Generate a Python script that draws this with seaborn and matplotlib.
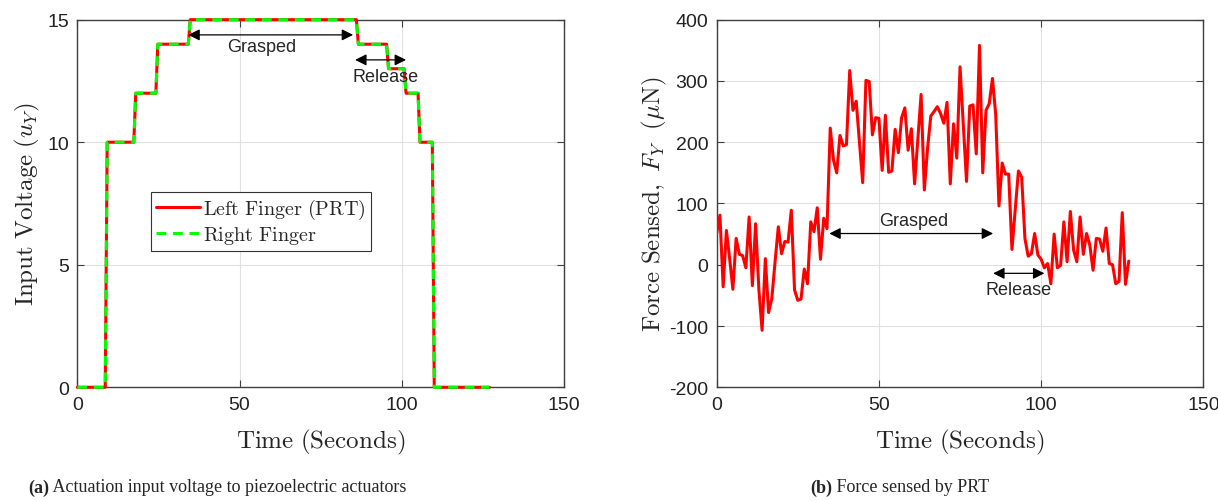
import numpy as np
import pandas as pd
import matplotlib
matplotlib.use('Agg')
import matplotlib.pyplot as plt
import seaborn as sns

# (a) actuation input voltage, step profile (corner points)
volt_time = [0, 8.6, 9.2, 17.4, 18.0, 24.2, 24.8, 34.2, 34.8, 86.0, 86.6,
             95.3, 95.9, 100.7, 101.3, 105.0, 105.6, 109.4, 110.0, 127.0]
volt_left = [0, 0, 10, 10, 12, 12, 14, 14, 15, 15, 14,
             14, 13, 13, 12, 12, 10, 10, 0, 0]
volt_right = list(volt_left)

# (b) force sensed by PRT, ~1 sample per second
force = [51, 81, -36, 56, 10, -40, 43, 17, 15, -5,
         78, -34, 67, -40, -107, 10, -78, -55, 5, 62,
         18, 38, 37, 89, -41, -58, -56, -7, -31, 70,
         54, 93, 9, 76, 59, 223, 171, 150, 211, 194,
         196, 317, 252, 267, 200, 134, 301, 299, 212, 240,
         239, 154, 244, 151, 153, 221, 183, 240, 256, 187,
         222, 132, 205, 278, 122, 190, 243, 250, 258, 247,
         231, 265, 132, 230, 174, 323, 230, 136, 259, 261,
         181, 358, 150, 252, 263, 304, 245, 96, 166, 148,
         148, 25, 90, 153, 143, 43, 14, 18, 51, 16,
         9, -5, 2, -31, 50, -5, -1, 70, 5, 87,
         24, 5, 78, 17, 51, 32, -9, 43, 42, 22,
         60, 2, 0, -31, -27, 85, -32, 6]
force_time = np.arange(len(force))

captions = ['Actuation input voltage to piezoelectric actuators', 'Force sensed by PRT']

sns.set_style('whitegrid')
plt.rcParams['font.family'] = ['Liberation Sans', 'DejaVu Sans']
plt.rcParams['mathtext.fontset'] = 'cm'
plt.rcParams['axes.unicode_minus'] = False

fig = plt.figure(figsize=(12.18, 5.02), dpi=100)
ax1 = fig.add_axes([0.0635, 0.2265, 0.3996, 0.7323])
ax2 = fig.add_axes([0.5884, 0.2265, 0.3996, 0.7323])

df_v = pd.DataFrame({'t': volt_time, 'left': volt_left, 'right': volt_right})
sns.lineplot(data=df_v, x='t', y='left', ax=ax1, color='#ff0000', lw=2.2,
             sort=False, estimator=None, label=r'$\mathrm{Left\ Finger\ (PRT)}$',
             zorder=3, clip_on=False)
sns.lineplot(data=df_v, x='t', y='right', ax=ax1, color='#00ff00', lw=2.2,
             sort=False, estimator=None, dashes=False, linestyle=(0, (3.2, 2.2)),
             label=r'$\mathrm{Right\ Finger}$', zorder=3, clip_on=False)

df_f = pd.DataFrame({'t': force_time, 'f': force})
sns.lineplot(data=df_f, x='t', y='f', ax=ax2, color='#ff0000', lw=2.2,
             sort=False, estimator=None, zorder=3)

arrow = dict(arrowstyle='<|-|>', color='black', lw=0.9, mutation_scale=17,
             shrinkA=0, shrinkB=0)

# annotations (a)
ax1.annotate('', xy=(34.2, 14.38), xytext=(85.0, 14.38), arrowprops=arrow)
ax1.text(56.8, 13.92, 'Grasped', ha='center', va='center', fontsize=13)
ax1.annotate('', xy=(85.6, 13.36), xytext=(101.3, 13.36), arrowprops=arrow)
ax1.text(95.1, 12.68, 'Release', ha='center', va='center', fontsize=13)

# annotations (b)
ax2.annotate('', xy=(34.7, 51), xytext=(85.2, 51), arrowprops=arrow)
ax2.text(60.6, 72, 'Grasped', ha='center', va='center', fontsize=13)
ax2.annotate('', xy=(85.2, -14), xytext=(101.0, -14), arrowprops=arrow)
ax2.text(93.0, -40, 'Release', ha='center', va='center', fontsize=13)

ax1.set_xlim(0, 150)
ax1.set_ylim(0, 15)
ax1.set_xticks([0, 50, 100, 150])
ax1.set_yticks([0, 5, 10, 15])
ax1.set_xlabel(r'$\mathrm{Time\ (Seconds)}$', fontsize=18, labelpad=10)
ax1.set_ylabel(r'$\mathrm{Input\ Voltage\ }(u_Y)$', fontsize=18, labelpad=4)

ax2.set_xlim(0, 150)
ax2.set_ylim(-200, 400)
ax2.set_xticks([0, 50, 100, 150])
ax2.set_yticks(range(-200, 401, 100))
ax2.set_xlabel(r'$\mathrm{Time\ (Seconds)}$', fontsize=18, labelpad=10)
ax2.set_ylabel(r'$\mathrm{Force\ Sensed,\ }F_Y\ \ (\mu\mathrm{N})$', fontsize=18, labelpad=0)

for ax in (ax1, ax2):
    ax.grid(True, color='#e0e0e0', lw=0.8)
    for s in ax.spines.values():
        s.set_visible(True)
        s.set_color('#404040')
        s.set_linewidth(1.0)
    ax.tick_params(direction='in', length=5, width=0.8, color='#404040',
                   labelsize=14, labelcolor='#222222', top=True, right=True,
                   left=True, bottom=True, pad=6)

leg = ax1.legend(loc='upper left', bbox_to_anchor=(0.151, 0.532), fontsize=14.5,
                 frameon=True, fancybox=False, borderpad=0.25, handlelength=2.2,
                 handletextpad=0.15, labelspacing=0.15, borderaxespad=0)
leg.get_frame().set_edgecolor('#333333')
leg.get_frame().set_linewidth(0.8)
leg.get_frame().set_alpha(1)

# sub-figure captions: bold tag followed by plain text
cap_y = 0.028
for x_left, tag, cap in [(0.023, '(a)', captions[0]), (0.665, '(b)', captions[1])]:
    t = fig.text(x_left, cap_y, tag, ha='left', va='center', fontsize=13,
                 family='Liberation Serif', weight='bold')
    ax1.annotate(' ' + cap, xy=(1, 0.5), xycoords=t, ha='left', va='center',
                 fontsize=13, family='Liberation Serif', annotation_clip=False)

fig.savefig('out.png', dpi=100)
